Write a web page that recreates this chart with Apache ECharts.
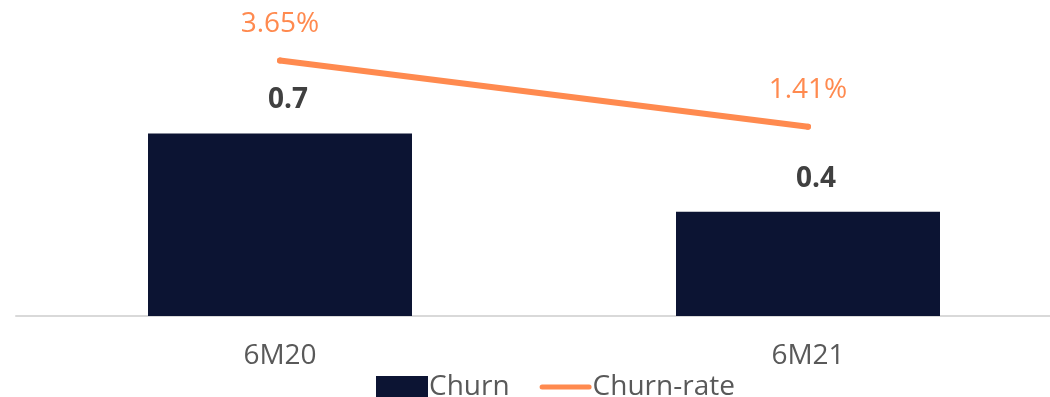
<!DOCTYPE html>
<html>
<head>
<meta charset="utf-8">
<style>
  html, body { margin: 0; padding: 0; background: #ffffff; }
  #chart { width: 1050px; height: 397px; }
</style>
<script src="https://cdn.jsdelivr.net/npm/echarts@6/dist/echarts.min.js"></script>
</head>
<body>
<div id="chart"></div>
<script>
// Half-year churn volume and churn rate
const categories = ['6M20', '6M21'];
const churn = [0.7, 0.4];
const churnRate = [3.65, 1.41];

const chart = echarts.init(document.getElementById('chart'), null, { renderer: 'canvas' });

const font = '"Open Sans", "Noto Sans", sans-serif';
// Thin rounded bar used as the legend marker for the rate line
const lineIcon = 'path://M2.5,0 L49.5,0 A2.5,2.5 0 0 1 49.5,5 L2.5,5 A2.5,2.5 0 0 1 2.5,0 Z';

chart.setOption({
  animation: false,
  backgroundColor: '#ffffff',
  grid: {
    left: 16, width: 1056, top: 3, bottom: 81,
    containLabel: false,
    outerBoundsMode: 'none'
  },
  legend: {
    bottom: -9,
    left: 371,
    itemGap: 30,
    itemWidth: 52,
    itemHeight: 22,
    textStyle: { fontFamily: font, fontSize: 28, color: '#595959', padding: [0, 0, 0, -4] },
    data: [
      { name: 'Churn', icon: 'rect' },
      { name: 'Churn-rate', icon: lineIcon }
    ]
  },
  xAxis: {
    type: 'category',
    data: categories,
    axisLine: { lineStyle: { color: '#d9d9d9', width: 2 } },
    axisTick: { show: false },
    axisLabel: { fontFamily: font, fontSize: 28, color: '#595959', margin: 26 }
  },
  yAxis: [
    { type: 'value', min: 0, max: 1.2, show: false, splitLine: { show: false } },
    { type: 'value', min: -5, max: 5.6, show: false, splitLine: { show: false } }
  ],
  series: [
    {
      name: 'Churn',
      type: 'bar',
      data: churn,
      barWidth: '50%',
      yAxisIndex: 0,
      itemStyle: { color: '#0c1433' },
      label: {
        show: true,
        position: 'top',
        distance: 19,
        offset: [8, 0],
        fontFamily: font,
        fontSize: 28,
        fontWeight: 'bold',
        color: '#404040'
      }
    },
    {
      name: 'Churn-rate',
      type: 'line',
      data: churnRate,
      yAxisIndex: 1,
      symbol: 'circle',
      symbolSize: 6,
      itemStyle: { color: '#ff8a4f' },
      lineStyle: { color: '#ff8a4f', width: 6, cap: 'round' },
      label: {
        show: true,
        position: 'top',
        distance: 20,
        formatter: '{c}%',
        fontFamily: font,
        fontSize: 28,
        color: '#ff8a4f'
      }
    }
  ]
});
</script>
</body>
</html>
